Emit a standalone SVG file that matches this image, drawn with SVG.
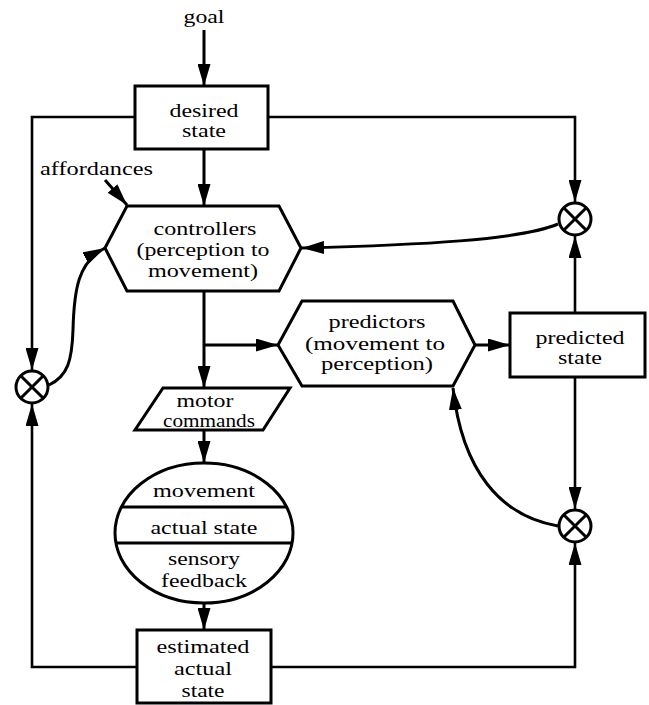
<svg xmlns="http://www.w3.org/2000/svg" width="649" height="705" viewBox="0 0 649 705">
<style>
.sh{fill:#fff;stroke:#000;stroke-width:3;stroke-linejoin:miter}
.ln{fill:none;stroke:#000;stroke-width:2.6}
.thk{fill:none;stroke:#000;stroke-width:3}
text{font-family:'Liberation Serif','Times New Roman','DejaVu Serif',serif;font-size:18.5px;fill:#000;text-anchor:middle}
.sj{fill:#fff;stroke:#000;stroke-width:3}
</style>
<defs>
<marker id="ah" markerUnits="userSpaceOnUse" markerWidth="22" markerHeight="13" refX="22" refY="6.5" orient="auto" viewBox="0 0 22 13">
<path d="M0,0 L22,6.5 L0,13 z" fill="#000"/>
</marker>
</defs>
<rect width="649" height="705" fill="#fff"/>
<g id="connectors">
<line class="thk" x1="204" y1="30" x2="204" y2="86" marker-end="url(#ah)"/>
<line class="thk" x1="204" y1="149" x2="204" y2="206" marker-end="url(#ah)"/>
<line class="thk" x1="105" y1="180" x2="127" y2="205" marker-end="url(#ah)"/>
<line class="thk" x1="204" y1="291" x2="204" y2="388" marker-end="url(#ah)"/>
<line class="thk" x1="204" y1="345" x2="278" y2="345" marker-end="url(#ah)"/>
<line class="thk" x1="204" y1="430" x2="204" y2="463" marker-end="url(#ah)"/>
<line class="thk" x1="204" y1="603" x2="204" y2="630" marker-end="url(#ah)"/>
<line class="thk" x1="475" y1="345" x2="510" y2="345" marker-end="url(#ah)"/>
<polyline class="ln" points="135,117 32,117 32,370" marker-end="url(#ah)"/>
<polyline class="ln" points="268,117 575,117 575,202" marker-end="url(#ah)"/>
<line class="ln" x1="575" y1="313" x2="575" y2="236" marker-end="url(#ah)"/>
<line class="ln" x1="575" y1="377" x2="575" y2="509" marker-end="url(#ah)"/>
<polyline class="ln" points="137,667 32,667 32,404" marker-end="url(#ah)"/>
<polyline class="ln" points="271,667 575,667 575,543" marker-end="url(#ah)"/>
<path class="thk" d="M558,224 C520,240 420,245 302,248" marker-end="url(#ah)"/>
<path class="thk" d="M558,526 C500,516 462,470 453,388" marker-end="url(#ah)"/>
<path class="thk" d="M49,385 C68,376 72,360 73,330 C74,290 78,262 105,248" marker-end="url(#ah)"/>
</g>
<g id="goal"><text x="204" y="23" textLength="41" lengthAdjust="spacingAndGlyphs">goal</text></g>
<g id="desired-state">
<rect class="sh" x="135" y="86" width="133" height="63"/>
<text x="204" y="117" textLength="69" lengthAdjust="spacingAndGlyphs">desired</text>
<text x="204" y="137" textLength="44" lengthAdjust="spacingAndGlyphs">state</text>
</g>
<g id="affordances"><text x="96.5" y="175" textLength="113" lengthAdjust="spacingAndGlyphs">affordances</text></g>
<g id="controllers">
<polygon class="sh" points="127,206 279,206 301,248 279,291 127,291 105,248"/>
<text x="205" y="235" textLength="103" lengthAdjust="spacingAndGlyphs">controllers</text>
<text x="203" y="256" textLength="133" lengthAdjust="spacingAndGlyphs">(perception to</text>
<text x="203" y="277" textLength="110" lengthAdjust="spacingAndGlyphs">movement)</text>
</g>
<g id="predictors">
<polygon class="sh" points="302,301 453,301 475,345 453,386 302,386 278,345"/>
<text x="377" y="328" textLength="97" lengthAdjust="spacingAndGlyphs">predictors</text>
<text x="375" y="350" textLength="140" lengthAdjust="spacingAndGlyphs">(movement to</text>
<text x="377" y="370" textLength="112" lengthAdjust="spacingAndGlyphs">perception)</text>
</g>
<g id="predicted-state">
<rect class="sh" x="510" y="313" width="135" height="64"/>
<text x="580" y="344" textLength="89" lengthAdjust="spacingAndGlyphs">predicted</text>
<text x="580" y="364" textLength="44" lengthAdjust="spacingAndGlyphs">state</text>
</g>
<g id="motor-commands">
<polygon class="sh" points="163,388 290,388 263,430 135,430"/>
<text x="205" y="407" textLength="57" lengthAdjust="spacingAndGlyphs">motor</text>
<text x="209" y="427" textLength="92" lengthAdjust="spacingAndGlyphs">commands</text>
</g>
<g id="body">
<ellipse class="sh" cx="204" cy="533" rx="89" ry="70"/>
<line class="thk" x1="121.4" y1="507" x2="286.6" y2="507"/>
<line class="thk" x1="115.9" y1="543" x2="292.1" y2="543"/>
<text x="204" y="497" textLength="102" lengthAdjust="spacingAndGlyphs">movement</text>
<text x="204" y="534" textLength="107" lengthAdjust="spacingAndGlyphs">actual state</text>
<text x="204" y="565" textLength="72" lengthAdjust="spacingAndGlyphs">sensory</text>
<text x="204" y="587" textLength="86" lengthAdjust="spacingAndGlyphs">feedback</text>
</g>
<g id="estimated-actual-state">
<rect class="sh" x="137" y="630" width="134" height="73"/>
<text x="203" y="653" textLength="93" lengthAdjust="spacingAndGlyphs">estimated</text>
<text x="203" y="675" textLength="58" lengthAdjust="spacingAndGlyphs">actual</text>
<text x="203" y="697" textLength="43" lengthAdjust="spacingAndGlyphs">state</text>
</g>
<g id="comparator-left">
<circle class="sj" cx="32" cy="387" r="16"/>
<path class="thk" d="M20.7,375.7 L43.3,398.3 M43.3,375.7 L20.7,398.3"/>
</g>
<g id="comparator-top-right">
<circle class="sj" cx="575" cy="219" r="16"/>
<path class="thk" d="M563.7,207.7 L586.3,230.3 M586.3,207.7 L563.7,230.3"/>
</g>
<g id="comparator-bottom-right">
<circle class="sj" cx="575" cy="526" r="16"/>
<path class="thk" d="M563.7,514.7 L586.3,537.3 M586.3,514.7 L563.7,537.3"/>
</g>
</svg>
